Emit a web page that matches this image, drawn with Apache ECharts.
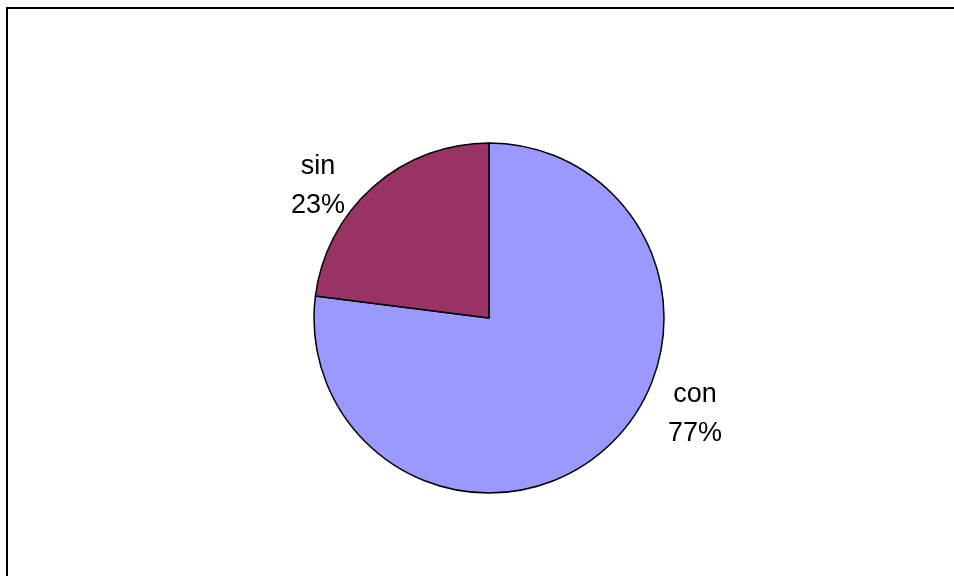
<!DOCTYPE html>
<html>
<head>
<meta charset="utf-8">
<style>
  html, body { margin: 0; padding: 0; background: #ffffff; }
  #chart { width: 954px; height: 576px; }
</style>
<script src="https://cdn.jsdelivr.net/npm/echarts@6/dist/echarts.min.js"></script>
</head>
<body>
<div id="chart"></div>
<script>
// Share of cases with and without
const categories = ['con', 'sin'];
const shares = [77, 23];
const sliceColors = ['#9999FF', '#993366'];

// Label anchor points (chart pixels), one per category
const labelAnchors = [[695, 414], [318, 186]];

const chart = echarts.init(document.getElementById('chart'), null, { renderer: 'canvas' });

chart.setOption({
  backgroundColor: '#ffffff',
  animation: false,
  graphic: [
    {
      type: 'polyline',
      shape: { points: [[7, 580], [7, 8], [960, 8]] },
      style: { stroke: '#000000', lineWidth: 2, fill: null },
      silent: true
    }
  ],
  series: [
    {
      type: 'pie',
      center: [489, 318],
      radius: [0, 175],
      startAngle: 90,
      clockwise: true,
      data: categories.map((name, i) => ({
        name: name,
        value: shares[i],
        itemStyle: { color: sliceColors[i] }
      })),
      itemStyle: { borderColor: '#000000', borderWidth: 1.5 },
      label: {
        show: true,
        position: 'outside',
        formatter: p => p.name + '\n' + p.value + '%',
        fontFamily: 'Liberation Sans, Arial, sans-serif',
        fontSize: 27,
        lineHeight: 39,
        color: '#000000',
        align: 'center'
      },
      labelLine: { show: false },
      labelLayout: params => ({
        x: labelAnchors[params.dataIndex][0],
        y: labelAnchors[params.dataIndex][1],
        align: 'center',
        verticalAlign: 'middle'
      }),
      emphasis: { disabled: true }
    }
  ]
});
</script>
</body>
</html>
